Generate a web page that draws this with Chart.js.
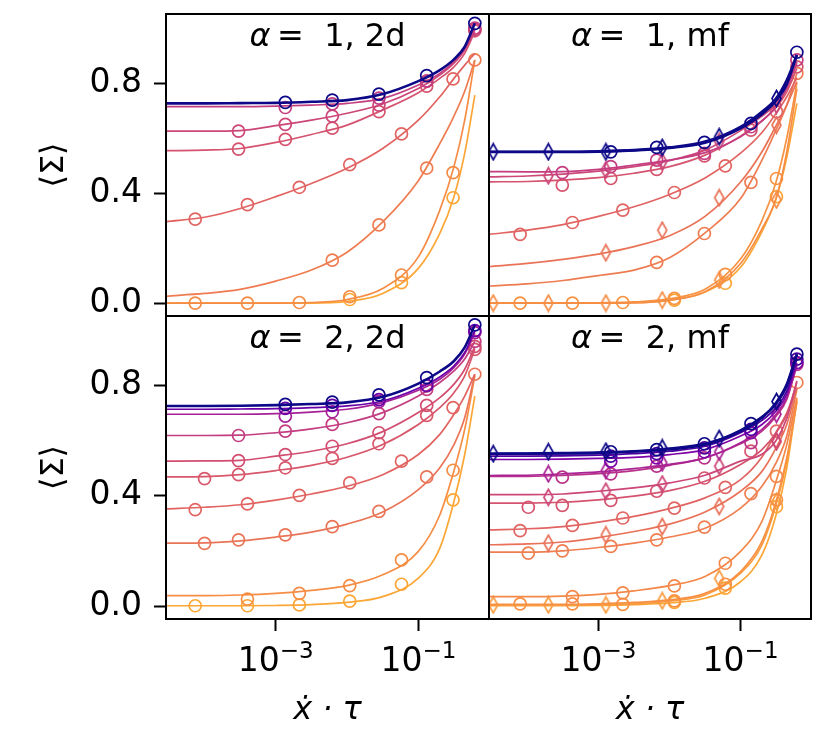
<!DOCTYPE html>
<html><head><meta charset="utf-8">
<script src="https://cdn.jsdelivr.net/npm/chart.js@4.4.1/dist/chart.umd.min.js"></script>
<style>
html,body{margin:0;padding:0;background:#fff;}
#wrap{position:relative;width:830px;height:738px;background:#fff;}
#wrap canvas{position:absolute;left:0;top:0;}
</style></head><body>
<div id="wrap">
<canvas id="c0"></canvas><canvas id="c1"></canvas><canvas id="c2"></canvas><canvas id="c3"></canvas>
</div>
<script>
// ---------- shared axis data ----------
const xMin = 2.88e-5, xMax = 0.98;
const yMin = -0.047, yMax = 1.051;
const xTickVals = [1e-3, 1e-1];
const xTickBase = ['10', '10'];
const xTickExp = ['\u22123', '\u22121'];
const yTickVals = [0, 0.4, 0.8];
const panelAlpha = ['1', '1', '2', '2'];
const panelKind = ['2d', 'mf', '2d', 'mf'];
const xTitle = 'x\u0307 \u00B7 \u03C4';
const yTitle = '\u27E8\u03A3\u27E9';
// x positions of the fitted curves
const lineX = [2.88e-5, 1e-4, 3.16e-4, 1e-3, 3.16e-3, 1e-2, 3.16e-2, 0.1, 0.2, 0.316, 0.447, 0.62];

// ---------- top-left: alpha = 1, 2d ----------
const tlColors = ['#0d0887','#c33d80','#cc4778','#d5536f','#e16462','#ef7c51','#f58c46','#fca636'];
const tlShapes = ['o','o','o','o','o','o','o','o'];
const tlLineY = [
 [0.726,0.726,0.727,0.728,0.732,0.738,0.760,0.807,0.847,0.886,0.932,1.017],
 [0.714,0.714,0.714,0.716,0.720,0.726,0.744,0.793,0.835,0.878,0.926,0.999],
 [0.625,0.625,0.627,0.645,0.665,0.690,0.724,0.780,0.829,0.872,0.920,0.993],
 [0.554,0.556,0.562,0.584,0.613,0.647,0.702,0.765,0.817,0.859,0.908,0.987],
 [0.296,0.312,0.344,0.387,0.435,0.490,0.562,0.665,0.750,0.817,0.865,0.908],
 [0.025,0.035,0.050,0.080,0.120,0.185,0.295,0.445,0.580,0.680,0.770,0.884],
 [0.000,0.000,0.000,0.000,0.002,0.013,0.053,0.168,0.338,0.496,0.665,0.884],
 [0.000,0.000,0.000,0.000,0.000,0.006,0.035,0.126,0.253,0.387,0.544,0.756]
];
const tlMarkX = [
 [1.36e-3,6.2e-3,2.8e-2,0.131,0.62],
 [1.36e-3,6.2e-3,2.8e-2,0.131,0.62],
 [3.0e-4,1.36e-3,6.2e-3,2.8e-2,0.131,0.62],
 [3.0e-4,1.36e-3,6.2e-3,2.8e-2,0.131,0.62],
 [7.4e-5,4.0e-4,2.14e-3,1.09e-2,5.8e-2,0.307],
 [6.2e-3,2.8e-2,0.131,0.62],
 [7.4e-5,4.0e-4,2.14e-3,1.09e-2,5.8e-2,0.307],
 [1.09e-2,5.8e-2,0.307]
];
const tlMarkY = [
 [0.730,0.738,0.760,0.827,1.017],
 [0.711,0.724,0.745,0.807,1.000],
 [0.625,0.650,0.680,0.720,0.807,0.995],
 [0.560,0.595,0.636,0.696,0.789,0.990],
 [0.305,0.358,0.421,0.503,0.615,0.815],
 [0.156,0.284,0.491,0.884],
 [0.000,0.000,0.002,0.023,0.102,0.474],
 [0.013,0.074,0.383]
];

// ---------- top-right: alpha = 1, mf ----------
const trColors = ['#0d0887','#0d0887','#c33d80','#cc4778','#d5536f','#e16462','#e97257','#ef7c51','#f68d45','#f79342','#fca636'];
const trShapes = ['d','o','o','d','o','o','d','o','d','o','o'];
const trLineY = [
 [0.550,0.550,0.550,0.552,0.556,0.566,0.587,0.641,0.696,0.744,0.811,0.902],
 [0.549,0.549,0.549,0.550,0.555,0.564,0.583,0.635,0.687,0.736,0.796,0.902],
 [0.478,0.477,0.478,0.486,0.502,0.520,0.547,0.605,0.662,0.716,0.781,0.878],
 [0.459,0.462,0.469,0.480,0.496,0.518,0.556,0.627,0.680,0.724,0.781,0.872],
 [0.441,0.442,0.447,0.456,0.472,0.496,0.538,0.607,0.663,0.711,0.768,0.853],
 [0.250,0.265,0.285,0.315,0.350,0.395,0.455,0.545,0.620,0.690,0.750,0.820],
 [0.132,0.144,0.159,0.178,0.205,0.245,0.315,0.440,0.550,0.645,0.720,0.805],
 [0.062,0.070,0.082,0.100,0.120,0.165,0.255,0.380,0.520,0.630,0.720,0.835],
 [0.000,0.000,0.000,0.000,0.001,0.011,0.041,0.144,0.270,0.380,0.550,0.780],
 [0.000,0.000,0.000,0.001,0.004,0.016,0.050,0.160,0.300,0.440,0.600,0.800],
 [0.000,0.000,0.000,0.000,0.002,0.010,0.040,0.130,0.260,0.380,0.530,0.726]
];
const trMarkX = [
 [3.3e-5,1.97e-4,1.27e-3,7.9e-3,5.0e-2,0.32],
 [1.49e-3,6.6e-3,3.1e-2,0.14,0.62],
 [3.1e-4,1.49e-3,6.6e-3,3.1e-2,0.14,0.62],
 [1.97e-4,1.27e-3,7.9e-3,5.0e-2,0.32],
 [3.1e-4,1.49e-3,6.6e-3,3.1e-2,0.14,0.62],
 [7.9e-5,4.3e-4,2.2e-3,1.17e-2,6.1e-2,0.32],
 [1.27e-3,7.9e-3,5.0e-2,0.32],
 [6.6e-3,3.1e-2,0.14,0.62],
 [3.3e-5,1.97e-4,1.27e-3,7.9e-3,5.0e-2,0.32],
 [7.9e-5,4.3e-4,2.2e-3,1.17e-2,6.1e-2,0.32],
 [1.17e-2,6.1e-2,0.32]
];
const trMarkY = [
 [0.550,0.550,0.550,0.566,0.605,0.744],
 [0.550,0.566,0.584,0.653,0.912],
 [0.474,0.496,0.520,0.544,0.641,0.884],
 [0.463,0.484,0.514,0.587,0.720],
 [0.429,0.453,0.486,0.535,0.629,0.859],
 [0.250,0.293,0.338,0.402,0.499,0.696],
 [0.183,0.265,0.383,0.647],
 [0.148,0.253,0.439,0.835],
 [0.000,0.000,0.000,0.011,0.084,0.375],
 [0.000,0.000,0.002,0.017,0.104,0.453],
 [0.011,0.072,0.387]
];

// ---------- bottom-left: alpha = 2, 2d ----------
const blColors = ['#0d0887','#6a00a8','#a62098','#c33d80','#d24e71','#d8576b','#e16462','#ea7457','#f68d45','#fca636'];
const blShapes = ['o','o','o','o','o','o','o','o','o','o'];
const blLineY = [
 [0.725,0.725,0.726,0.728,0.732,0.738,0.758,0.806,0.850,0.888,0.937,1.019],
 [0.713,0.713,0.714,0.715,0.719,0.725,0.743,0.789,0.830,0.870,0.919,0.998],
 [0.695,0.695,0.695,0.697,0.703,0.713,0.737,0.782,0.822,0.864,0.913,0.992],
 [0.618,0.618,0.619,0.628,0.642,0.664,0.701,0.761,0.810,0.852,0.895,0.959],
 [0.525,0.526,0.528,0.543,0.561,0.588,0.632,0.701,0.755,0.804,0.858,0.941],
 [0.468,0.469,0.476,0.491,0.510,0.539,0.585,0.658,0.719,0.773,0.834,0.931],
 [0.352,0.358,0.367,0.384,0.406,0.434,0.476,0.549,0.622,0.695,0.761,0.840],
 [0.228,0.229,0.236,0.250,0.268,0.297,0.341,0.422,0.501,0.585,0.682,0.840],
 [0.038,0.038,0.040,0.046,0.057,0.074,0.113,0.198,0.330,0.490,0.640,0.834],
 [0.001,0.001,0.001,0.002,0.005,0.013,0.034,0.101,0.210,0.379,0.549,0.761]
];
const blMarkX = [
 [1.36e-3,6.2e-3,2.8e-2,0.131,0.62],
 [1.36e-3,6.2e-3,2.8e-2,0.131,0.62],
 [1.36e-3,6.2e-3,2.8e-2,0.131,0.62],
 [3.0e-4,1.36e-3,6.2e-3,2.8e-2,0.131,0.62],
 [3.0e-4,1.36e-3,6.2e-3,2.8e-2,0.131,0.62],
 [1e-4,3.0e-4,1.36e-3,6.2e-3,2.8e-2,0.131,0.62],
 [7.4e-5,4.0e-4,2.14e-3,1.09e-2,5.8e-2,0.307],
 [1e-4,3.0e-4,1.36e-3,6.2e-3,2.8e-2,0.131,0.62],
 [4.0e-4,2.14e-3,1.09e-2,5.8e-2,0.307],
 [7.4e-5,4.0e-4,2.14e-3,1.09e-2,5.8e-2,0.307]
];
const blMarkY = [
 [0.731,0.739,0.765,0.828,1.019],
 [0.716,0.727,0.748,0.800,0.998],
 [0.688,0.704,0.741,0.798,0.991],
 [0.618,0.634,0.658,0.697,0.785,0.959],
 [0.527,0.549,0.579,0.628,0.727,0.941],
 [0.462,0.476,0.501,0.535,0.588,0.691,0.930],
 [0.349,0.370,0.401,0.446,0.525,0.719],
 [0.227,0.240,0.258,0.288,0.343,0.468,0.840],
 [0.025,0.046,0.074,0.167,0.492],
 [0.001,0.001,0.004,0.018,0.079,0.385]
];

// ---------- bottom-right: alpha = 2, mf ----------
const brColors = ['#0d0887','#0d0887','#4c02a1','#7e03a8','#a92395','#b93289','#cc4778','#d5536f','#e16462','#e97158','#ef7e50','#f48849','#f79044','#f99b3e','#fca636'];
const brShapes = ['d','o','o','o','d','o','d','o','o','d','o','o','o','d','o'];
const brLineY = [
 [0.552,0.553,0.554,0.556,0.561,0.571,0.588,0.634,0.682,0.737,0.804,0.913],
 [0.552,0.552,0.553,0.555,0.560,0.568,0.585,0.636,0.685,0.733,0.798,0.913],
 [0.543,0.543,0.544,0.547,0.552,0.561,0.579,0.628,0.673,0.719,0.779,0.895],
 [0.531,0.531,0.532,0.535,0.539,0.549,0.567,0.616,0.658,0.707,0.767,0.882],
 [0.473,0.474,0.479,0.486,0.498,0.513,0.537,0.592,0.640,0.695,0.755,0.870],
 [0.470,0.470,0.473,0.480,0.491,0.510,0.537,0.588,0.634,0.688,0.749,0.876],
 [0.404,0.404,0.406,0.416,0.428,0.446,0.474,0.525,0.550,0.600,0.680,0.816],
 [0.373,0.373,0.376,0.385,0.398,0.418,0.452,0.513,0.567,0.628,0.695,0.810],
 [0.276,0.280,0.288,0.304,0.325,0.353,0.392,0.458,0.540,0.630,0.700,0.790],
 [0.222,0.225,0.232,0.248,0.270,0.297,0.341,0.416,0.488,0.573,0.658,0.792],
 [0.195,0.195,0.200,0.212,0.228,0.250,0.282,0.355,0.434,0.519,0.616,0.785],
 [0.034,0.034,0.036,0.042,0.055,0.074,0.107,0.198,0.307,0.452,0.585,0.755],
 [0.006,0.006,0.006,0.008,0.013,0.022,0.046,0.125,0.234,0.379,0.537,0.743],
 [0.004,0.004,0.004,0.005,0.008,0.018,0.040,0.119,0.222,0.367,0.525,0.737],
 [0.001,0.001,0.001,0.002,0.005,0.011,0.028,0.088,0.185,0.330,0.500,0.749]
];
const brMarkX = [
 [3.3e-5,1.97e-4,1.27e-3,7.9e-3,5.0e-2,0.32],
 [1.49e-3,6.6e-3,3.1e-2,0.14,0.62],
 [1.49e-3,6.6e-3,3.1e-2,0.14,0.62],
 [1.49e-3,6.6e-3,3.1e-2,0.14,0.62],
 [1.97e-4,1.27e-3,7.9e-3,5.0e-2,0.32],
 [3.1e-4,1.49e-3,6.6e-3,3.1e-2,0.14,0.62],
 [1.97e-4,1.27e-3,7.9e-3,5.0e-2,0.32],
 [1.03e-4,3.1e-4,1.49e-3,6.6e-3,3.1e-2,0.14],
 [7.9e-5,4.3e-4,2.2e-3,1.17e-2,6.1e-2,0.32],
 [1.97e-4,1.27e-3,7.9e-3,5.0e-2,0.32],
 [1.03e-4,3.1e-4,1.49e-3,6.6e-3,3.1e-2,0.14,0.62],
 [4.3e-4,2.2e-3,1.17e-2,6.1e-2,0.32],
 [7.9e-5,4.3e-4,2.2e-3,1.17e-2,6.1e-2,0.32],
 [3.3e-5,1.97e-4,1.27e-3,7.9e-3,5.0e-2,0.32],
 [1.17e-2,6.1e-2,0.32]
];
const brMarkY = [
 [0.552,0.559,0.561,0.573,0.607,0.741],
 [0.559,0.567,0.588,0.661,0.913],
 [0.543,0.552,0.573,0.640,0.895],
 [0.525,0.537,0.559,0.628,0.882],
 [0.479,0.491,0.519,0.559,0.695],
 [0.467,0.479,0.507,0.537,0.592,0.876],
 [0.394,0.416,0.442,0.507,0.598],
 [0.358,0.365,0.383,0.416,0.464,0.561],
 [0.273,0.292,0.319,0.355,0.430,0.634],
 [0.228,0.258,0.288,0.361,0.595],
 [0.192,0.200,0.216,0.240,0.286,0.407,0.810],
 [0.034,0.048,0.073,0.155,0.470],
 [0.008,0.008,0.006,0.019,0.079,0.385],
 [0.004,0.004,0.004,0.019,0.100,0.379],
 [0.013,0.065,0.360]
];

// ---------- drawing ----------
const FONT = 'DejaVu Sans';
const W = 830, H = 738;

function diamondIcon(color) {
  const c = document.createElement('canvas');
  c.width = 13; c.height = 19;
  const g = c.getContext('2d');
  g.strokeStyle = color; g.lineWidth = 1.7;
  g.beginPath();
  g.moveTo(6.5, 1.5); g.lineTo(11, 9.5); g.lineTo(6.5, 17.5); g.lineTo(2, 9.5); g.closePath();
  g.stroke();
  return c;
}

function makeDatasets(lineY, markX, markY, colors, shapes) {
  const ds = [];
  lineY.forEach((ys, i) => {
    const col = colors[i];
    ds.push({
      showLine: true,
      data: lineX.map((x, j) => ({x: x, y: ys[j]})),
      borderColor: col, backgroundColor: col,
      borderWidth: col === '#0d0887' ? 2.6 : 1.7,
      pointRadius: 0, pointHoverRadius: 0,
      cubicInterpolationMode: 'monotone', fill: false
    });
    ds.push({
      showLine: false,
      data: markX[i].map((x, j) => ({x: x, y: markY[i][j]})),
      borderColor: col, backgroundColor: 'rgba(0,0,0,0)',
      borderWidth: 1.7,
      pointRadius: 6, pointHoverRadius: 6,
      pointStyle: shapes[i] === 'd' ? diamondIcon(col) : 'circle'
    });
  });
  return ds;
}

const deco = {
  id: 'deco',
  afterDatasetsDraw(chart, args, o) {
    const a = chart.chartArea, ctx = chart.ctx;
    ctx.save();
    ctx.strokeStyle = '#000'; ctx.lineWidth = 2;
    ctx.strokeRect(a.left, a.top, a.right - a.left, a.bottom - a.top);
    // panel title inside the frame
    ctx.fillStyle = '#000'; ctx.textBaseline = 'alphabetic';
    const p1 = '\u03B1', p2 = '\u2009=  ' + o.alpha + ', ' + o.kind;
    ctx.font = 'italic 32px "' + FONT + '"';
    const w1 = ctx.measureText(p1).width;
    ctx.font = '32px "' + FONT + '"';
    const w2 = ctx.measureText(p2).width;
    const cx = (a.left + a.right) / 2, x0 = cx - (w1 + w2) / 2, by = a.top + 32;
    ctx.textAlign = 'left';
    ctx.font = 'italic 32px "' + FONT + '"';
    ctx.fillText(p1, x0, by);
    ctx.font = '32px "' + FONT + '"';
    ctx.fillText(p2, x0 + w1, by);
    if (o.showY) {
      ctx.save();
      ctx.translate(55, (a.top + a.bottom) / 2);
      ctx.rotate(-Math.PI / 2);
      ctx.textAlign = 'center'; ctx.textBaseline = 'middle';
      ctx.font = '32px "' + FONT + '"';
      ctx.fillText(yTitle, 0, 0);
      ctx.restore();
    }
    if (o.showX) {
      // tick labels: base + raised exponent, centred on the scale's tick position
      const xs = chart.scales.x;
      xTickVals.forEach((v, i) => {
        const px = xs.getPixelForValue(v);
        ctx.font = '33px "' + FONT + '"';
        const wb = ctx.measureText(xTickBase[i]).width;
        ctx.font = '23px "' + FONT + '"';
        const we = ctx.measureText(xTickExp[i]).width;
        const sx = px - (wb + we) / 2;
        ctx.textAlign = 'left'; ctx.textBaseline = 'alphabetic';
        ctx.font = '33px "' + FONT + '"';
        ctx.fillText(xTickBase[i], sx, 671);
        ctx.font = '23px "' + FONT + '"';
        ctx.fillText(xTickExp[i], sx + wb, 658);
      });
      ctx.textAlign = 'center'; ctx.textBaseline = 'alphabetic';
      ctx.font = 'italic 32px "' + FONT + '"';
      ctx.fillText(xTitle, cx, 719);
    }
    ctx.restore();
  }
};

function zeroPad(s) { s.paddingTop = 0; s.paddingBottom = 0; s.paddingLeft = 0; s.paddingRight = 0; }

function panel(id, rect, showX, showY, idx, lineY, markX, markY, colors, shapes) {
  const cv = document.getElementById(id);
  cv.width = W; cv.height = H;
  const tickFont = {family: FONT, size: 33};
  return new Chart(cv, {
    type: 'scatter',
    data: {datasets: makeDatasets(lineY, markX, markY, colors, shapes)},
    options: {
      responsive: false, animation: false, events: [],
      layout: {autoPadding: false, padding: {
        left: showY ? 0 : rect.l, top: rect.t,
        right: W - rect.r, bottom: showX ? 0 : H - rect.b}},
      plugins: {legend: {display: false}, tooltip: {enabled: false},
        deco: {alpha: panelAlpha[idx], kind: panelKind[idx], showX: showX, showY: showY}},
      scales: {
        x: {type: 'logarithmic', min: xMin, max: xMax, display: showX,
          afterBuildTicks: s => { s.ticks = xTickVals.map(v => ({value: v})); },
          afterFit: s => { zeroPad(s); if (showX) s.height = H - rect.b; },
          ticks: {display: false, font: tickFont, color: '#000', maxRotation: 0, autoSkip: false},
          grid: {drawOnChartArea: false, drawTicks: true, tickLength: 12, tickWidth: 2, tickColor: '#000'},
          border: {display: false}},
        y: {type: 'linear', min: yMin, max: yMax, display: showY,
          afterBuildTicks: s => { s.ticks = yTickVals.map(v => ({value: v})); },
          afterFit: s => { zeroPad(s); if (showY) s.width = rect.l; },
          ticks: {callback: v => Number(v).toFixed(1), font: tickFont, color: '#000', padding: 12},
          grid: {drawOnChartArea: false, drawTicks: true, tickLength: 12, tickWidth: 2, tickColor: '#000'},
          border: {display: false}}
      }
    },
    plugins: [deco]
  });
}

const L = 166, M = 489, R = 811, T = 14, D = 316, B = 619;
panel('c0', {l: L, r: M, t: T, b: D}, false, true, 0, tlLineY, tlMarkX, tlMarkY, tlColors, tlShapes);
panel('c1', {l: M, r: R, t: T, b: D}, false, false, 1, trLineY, trMarkX, trMarkY, trColors, trShapes);
panel('c2', {l: L, r: M, t: D, b: B}, true, true, 2, blLineY, blMarkX, blMarkY, blColors, blShapes);
panel('c3', {l: M, r: R, t: D, b: B}, true, false, 3, brLineY, brMarkX, brMarkY, brColors, brShapes);
</script>
</body></html>
